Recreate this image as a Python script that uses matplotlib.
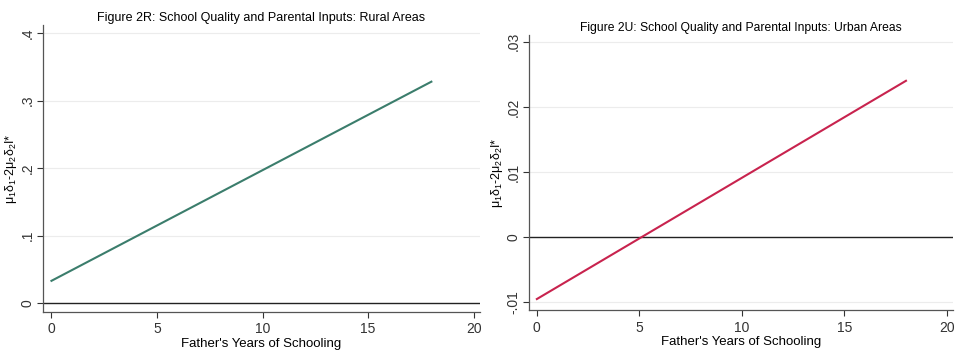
import numpy as np
import matplotlib
matplotlib.use("Agg")
import matplotlib.pyplot as plt

plt.rcParams['font.family'] = ['Liberation Sans', 'DejaVu Sans']
plt.rcParams['mathtext.fontset'] = 'custom'
plt.rcParams['mathtext.rm'] = 'Liberation Sans'
plt.rcParams['mathtext.it'] = 'Liberation Sans'

# fitted lines: father's schooling vs mu1 d1 - 2 mu2 d2 I*
school_years = [0, 18]
rural_vals = [0.033, 0.328]
urban_vals = [-0.0095, 0.024]

x_ticks = [0, 5, 10, 15, 20]
rural_yticks = [0, 0.1, 0.2, 0.3, 0.4]
rural_ylabels = ['0', '.1', '.2', '.3', '.4']
urban_yticks = [-0.01, 0, 0.01, 0.02, 0.03]
urban_ylabels = ['-.01', '0', '.01', '.02', '.03']

ylab = r'$\mu_1\delta_1$-2$\mu_2\delta_2$I*'

fig = plt.figure(figsize=(9.56, 3.52), dpi=100)
ax1 = fig.add_axes([0.045, 0.114, 0.457, 0.815])
ax2 = fig.add_axes([0.553, 0.119, 0.444, 0.781])


def style(ax, yticks, ylabels, ylim, title, tsize, color, yvals):
    ax.plot(school_years, yvals, color=color, lw=1.5, zorder=3)
    ax.axhline(0, color='#222222', lw=1.0, zorder=2)
    for t in yticks:
        if t != 0:
            ax.axhline(t, color='#ececec', lw=0.8, zorder=1)
    ax.set_xlim(-0.4, 20.3)
    ax.set_ylim(*ylim)
    ax.set_xticks(x_ticks)
    ax.set_yticks(yticks)
    ax.set_yticklabels(ylabels, rotation=90, va='center')
    ax.tick_params(colors='#333333', labelsize=10, length=4, width=0.8)
    ax.tick_params(axis='y', pad=2)
    for s in ['top', 'right']:
        ax.spines[s].set_visible(False)
    for s in ['left', 'bottom']:
        ax.spines[s].set_color('#555555')
        ax.spines[s].set_linewidth(0.9)
    ax.set_xlabel("Father's Years of Schooling", fontsize=9.5, labelpad=1)
    ax.set_ylabel(ylab, fontsize=9, labelpad=1)
    ax.set_title(title, fontsize=tsize, pad=3)


style(ax1, rural_yticks, rural_ylabels, (-0.013, 0.412),
      'Figure 2R: School Quality and Parental Inputs: Rural Areas', 9.0,
      '#3b7d6c', rural_vals)
style(ax2, urban_yticks, urban_ylabels, (-0.0112, 0.031),
      'Figure 2U: School Quality and Parental Inputs: Urban Areas', 8.7,
      '#c8234e', urban_vals)

fig.savefig('out.png', dpi=100)
